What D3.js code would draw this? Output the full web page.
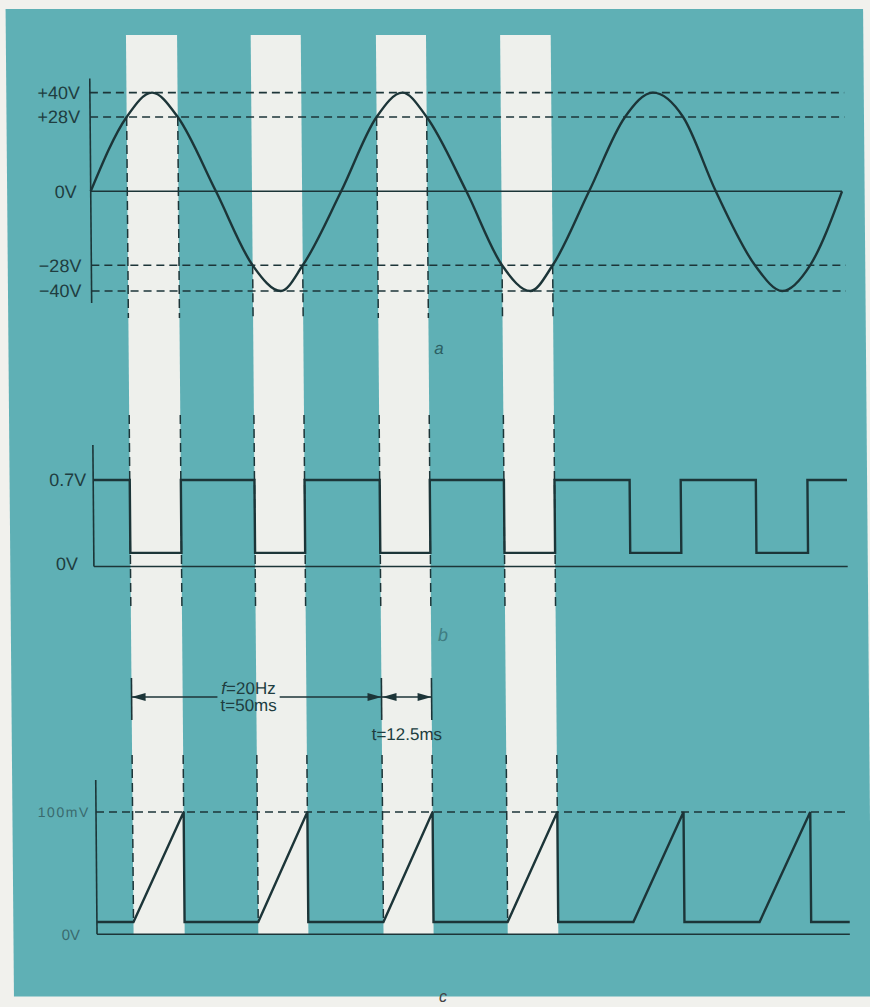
<!DOCTYPE html>
<html>
<head>
<meta charset="utf-8">
<script src="https://cdn.jsdelivr.net/npm/d3@7"></script>
<style>
html, body { margin: 0; padding: 0; background: #f1f1ed; }
svg { display: block; }
text { font-family: "Liberation Sans", Arial, sans-serif; }
</style>
</head>
<body>
<div id="chart"></div>
<script>
// waveform a: sine (ms, volts)
var sineTime  = [0, 7.3, 12.4, 17.5, 25, 32.2, 37.8, 42.2, 50, 57.2, 62.4, 67.2, 75, 82.0, 87.6, 92.1, 99.5, 106.8, 112.4, 118.4, 124.8, 132.5, 137.9, 143.5, 150];
var sineVolts = [0, 28, 40, 28, 0, -28, -40, -28, 0, 28, 40, 28, 0, -28, -40, -28, 0, 28, 40, 28, 0, -28, -40, -28, 0];

// gate intervals (ms) where |V| > 28V
var gateOn  = [7.3, 32.2, 57.2, 82.0, 107.1, 132.3];
var gateOff = [17.5, 42.2, 67.2, 92.1, 117.3, 142.6];
var gateLevel = [28, -28, 28, -28, 28, -28];
var highlighted = [0, 1, 2, 3];

var sineTicks = [40, 28, 0, -28, -40];
var sineTickLabels = ["+40V", "+28V", "0V", "\u221228V", "\u221240V"];
var dashedLevels = [40, 28, -28, -40];

// waveform b: square
var squareTicks = [0.7, 0];
var squareTickLabels = ["0.7V", "0V"];
var squareHigh = 0.7, squareLow = 0.11;

// waveform c: ramp (mV)
var rampTicks = [100, 0];
var rampTickLabels = ["100mV", "0V"];
var rampBase = 10, rampPeak = 100;

var periodText = ["=20Hz", "t=50ms"];
var gateText = "t=12.5ms";
var captions = ["a", "b", "c"];

var W = 870, H = 1007;
var ink = "#1c3538";
var teal = "#5fb0b5";
var paper = "#eef0ec";

var x = d3.scaleLinear().domain([0, 150]).range([89.1, 840.4]);
var ya = d3.scaleLinear().domain([-40, -28, 0, 28, 40]).range([291, 265.3, 191.3, 117, 92.6]);
var yb = d3.scaleLinear().domain([0, 0.7]).range([566.5, 480]);
var yc = d3.scaleLinear().domain([0, 100]).range([934.2, 812]);

var svg = d3.select("#chart").append("svg")
    .attr("width", W)
    .attr("height", H);

svg.append("rect").attr("width", W).attr("height", H).attr("fill", "#f1f1ed");

// the scan is slightly sheared
var g = svg.append("g").attr("transform", "skewX(0.487)");

g.append("rect")
    .attr("x", 5.5).attr("y", 9)
    .attr("width", 857.5).attr("height", 987.5)
    .attr("fill", teal);

// white stripes for the first four gates
g.selectAll(".stripe")
    .data(highlighted)
    .enter()
    .append("rect")
    .attr("class", "stripe")
    .attr("x", function(i) { return x(gateOn[i]); })
    .attr("y", 35)
    .attr("width", function(i) { return x(gateOff[i]) - x(gateOn[i]); })
    .attr("height", yc(0) - 35)
    .attr("fill", paper);

// dashed drop lines from gate edges down to the ramp
var drops = [];
highlighted.forEach(function(i) {
    drops.push({ t: gateOn[i], top: ya(gateLevel[i]), bottom: yc(rampBase) });
    drops.push({ t: gateOff[i], top: ya(gateLevel[i]), bottom: yc(rampPeak) });
});
drops.forEach(function(d) {
    [[d.top, 318], [415, 610], [755, d.bottom]].forEach(function(s) {
        g.append("line")
            .attr("x1", x(d.t)).attr("x2", x(d.t))
            .attr("y1", s[0]).attr("y2", s[1])
            .attr("stroke", ink)
            .attr("stroke-width", 1.5)
            .attr("stroke-dasharray", "9,5");
    });
});

// ---- a ----
g.selectAll(".hdash")
    .data(dashedLevels)
    .enter()
    .append("line")
    .attr("x1", x(0)).attr("x2", x(150.6))
    .attr("y1", function(d) { return ya(d); })
    .attr("y2", function(d) { return ya(d); })
    .attr("stroke", ink)
    .attr("stroke-width", 1.6)
    .attr("stroke-dasharray", "8,5");

g.append("line").attr("x1", x(0)).attr("x2", x(150)).attr("y1", ya(0)).attr("y2", ya(0))
    .attr("stroke", ink).attr("stroke-width", 1.6);
g.append("line").attr("x1", x(0)).attr("x2", x(0)).attr("y1", ya(40) - 14).attr("y2", ya(-40) + 12)
    .attr("stroke", ink).attr("stroke-width", 1.6);

var sineLine = d3.line()
    .x(function(d) { return x(d[0]); })
    .y(function(d) { return ya(d[1]); })
    .curve(d3.curveMonotoneX);

g.append("path")
    .datum(d3.zip(sineTime, sineVolts))
    .attr("d", sineLine)
    .attr("fill", "none")
    .attr("stroke", ink)
    .attr("stroke-width", 2.4);

g.selectAll(".alab")
    .data(sineTicks)
    .enter()
    .append("text")
    .attr("x", function(d) { return x(0) - (d === 0 ? 14 : 10); })
    .attr("y", function(d) { return ya(d) + 6.5; })
    .attr("text-anchor", "end")
    .attr("font-size", 18)
    .attr("fill", "#203d40")
    .text(function(d, i) { return sineTickLabels[i]; });

// ---- b ----
var sqPts = [[0, squareHigh]];
gateOn.forEach(function(t, i) {
    sqPts.push([t, squareLow]);
    sqPts.push([gateOff[i], squareHigh]);
});
sqPts.push([150.5, squareHigh]);

g.append("line").attr("x1", x(0)).attr("x2", x(150.5)).attr("y1", yb(0)).attr("y2", yb(0))
    .attr("stroke", ink).attr("stroke-width", 1.6);
g.append("line").attr("x1", x(0)).attr("x2", x(0)).attr("y1", yb(0.7) - 35).attr("y2", yb(0))
    .attr("stroke", ink).attr("stroke-width", 1.6);

g.append("path")
    .datum(sqPts)
    .attr("d", d3.line()
        .x(function(d) { return x(d[0]); })
        .y(function(d) { return yb(d[1]); })
        .curve(d3.curveStepAfter))
    .attr("fill", "none")
    .attr("stroke", ink)
    .attr("stroke-width", 2.4);

g.selectAll(".blab")
    .data(squareTicks)
    .enter()
    .append("text")
    .attr("x", function(d) { return x(0) - (d === 0 ? 16 : 7); })
    .attr("y", function(d) { return yb(d) + (d === 0 ? 4 : 6.5); })
    .attr("text-anchor", "end")
    .attr("font-size", 18)
    .attr("fill", "#203d40")
    .text(function(d, i) { return squareTickLabels[i]; });

// ---- c ----
var rampPts = [[0, rampBase]];
gateOn.forEach(function(t, i) {
    rampPts.push([t, rampBase]);
    rampPts.push([gateOff[i], rampPeak]);
    rampPts.push([gateOff[i], rampBase]);
});
rampPts.push([150.3, rampBase]);

g.append("line").attr("x1", x(0)).attr("x2", x(150.5)).attr("y1", yc(100)).attr("y2", yc(100))
    .attr("stroke", ink).attr("stroke-width", 1.5).attr("stroke-dasharray", "8,5");
g.append("line").attr("x1", x(0)).attr("x2", x(150.3)).attr("y1", yc(0)).attr("y2", yc(0))
    .attr("stroke", ink).attr("stroke-width", 1.6);
g.append("line").attr("x1", x(0)).attr("x2", x(0)).attr("y1", yc(100) - 32).attr("y2", yc(0))
    .attr("stroke", ink).attr("stroke-width", 1.6);

g.append("path")
    .datum(rampPts)
    .attr("d", d3.line()
        .x(function(d) { return x(d[0]); })
        .y(function(d) { return yc(d[1]); }))
    .attr("fill", "none")
    .attr("stroke", ink)
    .attr("stroke-width", 2.4)
    .attr("stroke-linejoin", "miter");

g.selectAll(".clab")
    .data(rampTicks)
    .enter()
    .append("text")
    .attr("x", function(d) { return x(0) - (d === 0 ? 17 : 6); })
    .attr("y", function(d) { return yc(d) + (d === 0 ? 6 : 5); })
    .attr("text-anchor", "end")
    .attr("font-size", function(d) { return d === 0 ? 15 : 14; })
    .attr("font-family", function(d) { return d === 0 ? null : "Liberation Serif, serif"; })
    .attr("letter-spacing", function(d) { return d === 0 ? null : 1.6; })
    .attr("fill", "#3a6a6e")
    .text(function(d, i) { return rampTickLabels[i]; });

// ---- period / gate annotations ----
var ay = 697;
var x0 = x(gateOn[0]), x1 = x(gateOn[2]), x2 = x(gateOff[2]);

[x0, x1, x2].forEach(function(xx) {
    g.append("line").attr("x1", xx).attr("x2", xx).attr("y1", 678).attr("y2", 720)
        .attr("stroke", ink).attr("stroke-width", 1.6);
});

var midX = (x0 + x1) / 2 - 8;
var t1 = g.append("text")
    .attr("x", midX).attr("y", 694)
    .attr("text-anchor", "middle")
    .attr("font-size", 17)
    .attr("fill", "#203d40");
t1.append("tspan").attr("font-style", "italic").text("f");
t1.append("tspan").text(periodText[0]);
var t2 = g.append("text")
    .attr("x", midX).attr("y", 711)
    .attr("text-anchor", "middle")
    .attr("font-size", 17)
    .attr("fill", "#203d40")
    .text(periodText[1]);

var b1 = t1.node().getBBox(), b2 = t2.node().getBBox();
var gapL = Math.min(b1.x, b2.x) - 3, gapR = Math.max(b1.x + b1.width, b2.x + b2.width) + 3;

function head(tip, dir) {
    g.append("path")
        .attr("d", "M" + tip + "," + ay + "L" + (tip + dir * 14) + "," + (ay - 4) + "L" + (tip + dir * 14) + "," + (ay + 4) + "Z")
        .attr("fill", ink);
}
g.append("line").attr("x1", x0).attr("x2", gapL).attr("y1", ay).attr("y2", ay).attr("stroke", ink).attr("stroke-width", 1.6);
g.append("line").attr("x1", gapR).attr("x2", x1).attr("y1", ay).attr("y2", ay).attr("stroke", ink).attr("stroke-width", 1.6);
head(x0, 1); head(x1, -1);
g.append("line").attr("x1", x1).attr("x2", x2).attr("y1", ay).attr("y2", ay).attr("stroke", ink).attr("stroke-width", 1.6);
head(x1 + 1, 1); head(x2, -1);

g.append("text")
    .attr("x", (x1 + x2) / 2).attr("y", 740)
    .attr("text-anchor", "middle")
    .attr("font-size", 17)
    .attr("fill", "#203d40")
    .text(gateText);

// captions
g.append("text").attr("x", 436).attr("y", 354).attr("text-anchor", "middle")
    .attr("font-size", 17).attr("font-style", "italic").attr("fill", "#2c5f63").text(captions[0]);
g.append("text").attr("x", 437.5).attr("y", 641).attr("text-anchor", "middle")
    .attr("font-size", 18).attr("font-style", "italic").attr("fill", "#3f7d82").text(captions[1]);
svg.append("text").attr("x", 443).attr("y", 1002).attr("text-anchor", "middle")
    .attr("font-size", 16).attr("font-style", "italic").attr("fill", "#444").text(captions[2]);
</script>
</body>
</html>
